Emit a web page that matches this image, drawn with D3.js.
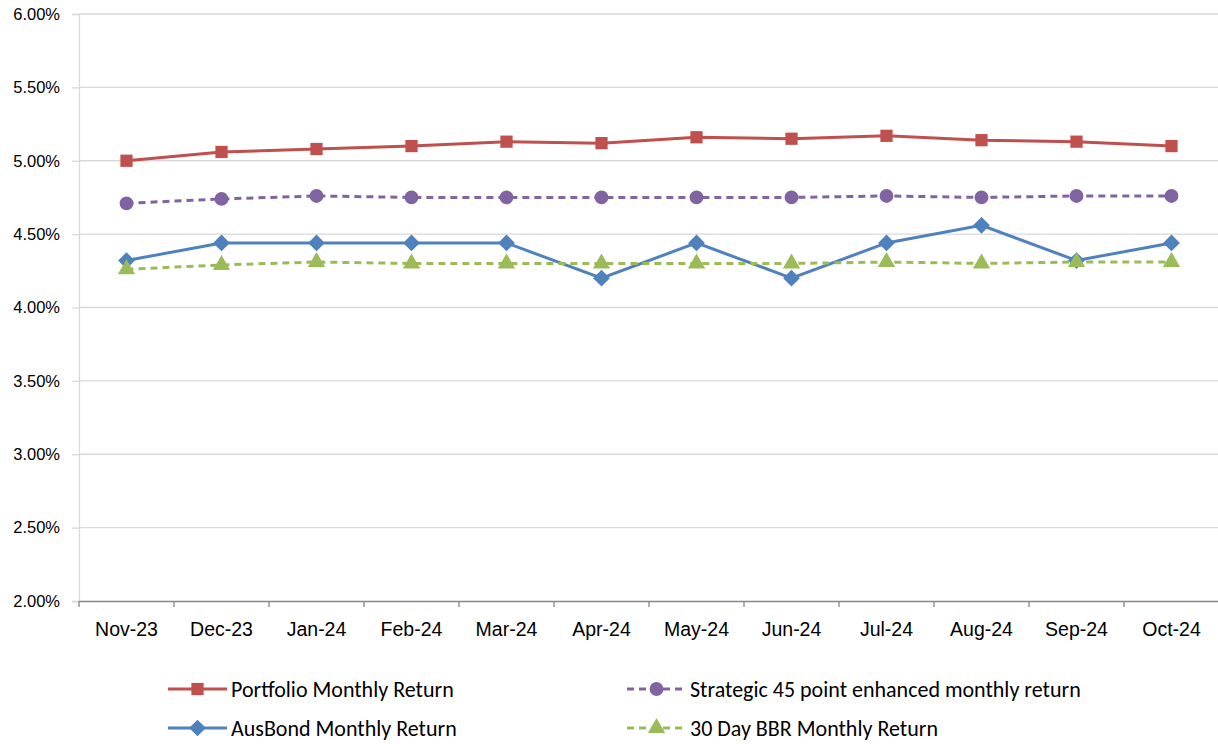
<!DOCTYPE html>
<html><head><meta charset="utf-8">
<script src="https://cdn.jsdelivr.net/npm/d3@7"></script>
<style>body{margin:0;background:#fff;} svg{display:block;font-family:Carlito,Calibri,Lato,"Open Sans",sans-serif;}</style>
</head><body><svg id="c" width="1218" height="744"></svg>
<script>
const categories = ["Nov-23","Dec-23","Jan-24","Feb-24","Mar-24","Apr-24","May-24","Jun-24","Jul-24","Aug-24","Sep-24","Oct-24"];
const portfolio = [5.00,5.06,5.08,5.10,5.13,5.12,5.16,5.15,5.17,5.14,5.13,5.10];
const strategic = [4.71,4.74,4.76,4.75,4.75,4.75,4.75,4.75,4.76,4.75,4.76,4.76];
const ausbond = [4.32,4.44,4.44,4.44,4.44,4.20,4.44,4.20,4.44,4.56,4.32,4.44];
const bbr = [4.26,4.29,4.31,4.30,4.30,4.30,4.30,4.30,4.31,4.30,4.31,4.31];
const yTicks = [2.0,2.5,3.0,3.5,4.0,4.5,5.0,5.5,6.0];

const series = [
  {name:"Portfolio Monthly Return", values:portfolio, color:"#c0504d", dash:null, marker:"square"},
  {name:"Strategic 45 point enhanced monthly return", values:strategic, color:"#8064a2", dash:"7,5", marker:"circle"},
  {name:"AusBond Monthly Return", values:ausbond, color:"#4f81bd", dash:null, marker:"diamond"},
  {name:"30 Day BBR Monthly Return", values:bbr, color:"#9bbb59", dash:"7,5", marker:"triangle"}
];

const svg = d3.select("#c");
const L=79, R=1219, T=14, B=601;
const x = d3.scaleBand().domain(categories).range([L,R]).padding(0);
const y = d3.scaleLinear().domain([2,6]).range([B,T]);

// gridlines
svg.append("g").selectAll("line").data(yTicks.slice(1)).join("line")
  .attr("x1",L).attr("x2",R).attr("y1",d=>y(d)).attr("y2",d=>y(d))
  .attr("stroke","#d9d9d9").attr("stroke-width",1.3);

// y axis
const yAxis = svg.append("g").attr("transform",`translate(${L},0)`)
  .call(d3.axisLeft(y).tickValues(yTicks).tickFormat(d=>d.toFixed(2)+"%").tickSize(7).tickPadding(12));
yAxis.select(".domain").attr("stroke","#d9d9d9").attr("stroke-width",1.3);
yAxis.selectAll(".tick line").attr("stroke","#d9d9d9").attr("stroke-width",1.3);
yAxis.selectAll("text").attr("font-size",16.5).attr("fill","#000");

// x axis
const xAxis = svg.append("g").attr("transform",`translate(0,${B})`)
  .call(d3.axisBottom(x).tickSize(0).tickPadding(21));
xAxis.select(".domain").attr("stroke","#868686").attr("stroke-width",1.3);
xAxis.selectAll("text").attr("font-size",19.5).attr("fill","#000");
xAxis.append("g").selectAll("line").data(d3.range(categories.length+1)).join("line")
  .attr("x1",i=>L+i*x.bandwidth()).attr("x2",i=>L+i*x.bandwidth())
  .attr("y1",0).attr("y2",6).attr("stroke","#868686").attr("stroke-width",1.3);

const cx = c => x(c)+x.bandwidth()/2;
const sym = {square:d3.symbolSquare, circle:d3.symbolCircle, diamond:d3.symbolSquare, triangle:d3.symbolTriangle};
const size = {square:150, circle:150, diamond:140, triangle:130};
const rot = {square:0, circle:0, diamond:45, triangle:0};

const line = d3.line().x((d,i)=>cx(categories[i])).y(d=>y(d));
series.forEach(s=>{
  svg.append("path").datum(s.values).attr("d",line).attr("fill","none")
    .attr("stroke",s.color).attr("stroke-width",3).attr("stroke-dasharray",s.dash);
  svg.append("g").selectAll("path").data(s.values).join("path")
    .attr("d",d3.symbol().type(sym[s.marker]).size(size[s.marker]))
    .attr("transform",(d,i)=>`translate(${cx(categories[i])},${y(d)}) rotate(${rot[s.marker]})`)
    .attr("fill",s.color);
});

// legend
const legPos = [[168,689],[627,689],[168,728],[627,728]];
series.forEach((s,i)=>{
  const [lx,ly] = legPos[i];
  const g = svg.append("g").attr("transform",`translate(${lx},${ly})`);
  g.append("line").attr("x1",0).attr("x2",59).attr("y1",0).attr("y2",0)
    .attr("stroke",s.color).attr("stroke-width",3).attr("stroke-dasharray",s.dash);
  g.append("path").attr("d",d3.symbol().type(sym[s.marker]).size(size[s.marker]))
    .attr("transform",`translate(29.5,0) rotate(${rot[s.marker]})`).attr("fill",s.color);
  g.append("text").attr("x",63).attr("y",0).attr("dy","0.35em")
    .attr("font-size",22).attr("fill","#000").text(s.name);
});
</script></body></html>
